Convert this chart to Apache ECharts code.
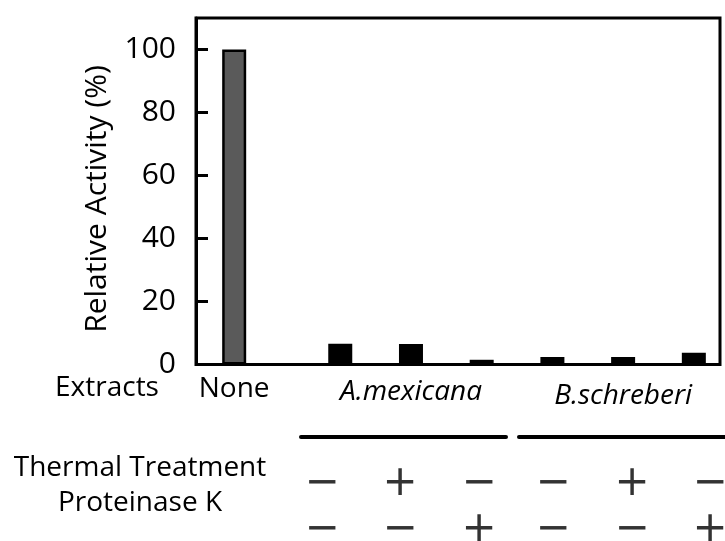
<!DOCTYPE html>
<html>
<head>
<meta charset="utf-8">
<script src="https://cdn.jsdelivr.net/npm/echarts@6/dist/echarts.min.js"></script>
<style>
  html, body { margin: 0; padding: 0; background: #fff; }
  #chart { width: 725px; height: 541px; }
</style>
</head>
<body>
<div id="chart"></div>
<script>
// Extract groups and the group each bar belongs to
const groups = ['None', 'A.mexicana', 'B.schreberi'];
const barGroup = [0, 1, 1, 1, 2, 2, 2];
// Relative activity (%) for each bar
const activity = [100, 6.6, 6.5, 1.5, 2.4, 2.4, 3.7];
// Treatment table (one column per extract bar)
const thermal = ['−', '+', '−', '−', '+', '−'];
const proteinase = ['−', '−', '+', '−', '−', '+'];
// Y axis ticks
const yMin = 0, yMax = 110, yStep = 20;

const FONT = 'Open Sans';

// Bars after the control sit one and a half slots away from it
const barPos = activity.map((v, i) => (i === 0 ? 0 : i + 0.5));

const chart = echarts.init(document.getElementById('chart'), null, { renderer: 'canvas' });

chart.setOption({
  animation: false,
  backgroundColor: '#fff',
  grid: {
    left: 196, right: 5, top: 18, bottom: 176.5,
    show: true, borderColor: '#000', borderWidth: 3, backgroundColor: 'transparent'
  },
  xAxis: {
    type: 'value', min: -0.54, max: 6.87,
    axisLine: { show: false, onZero: false }, axisTick: { show: false },
    axisLabel: { show: false }, splitLine: { show: false }
  },
  yAxis: {
    type: 'value', min: yMin, max: yMax, interval: yStep,
    axisLine: { show: true, onZero: false, lineStyle: { color: '#000', width: 3 } },
    axisTick: { show: true, inside: true, length: 12, lineStyle: { color: '#000', width: 3 } },
    axisLabel: {
      showMaxLabel: false, margin: 20,
      fontFamily: FONT, fontSize: 30, color: '#000'
    },
    splitLine: { show: false }
  },
  series: [{
    type: 'bar',
    barWidth: 24,
    data: activity.map((v, i) => ({
      value: [barPos[i], v],
      itemStyle: { color: barGroup[i] === 0 ? '#5a5a5a' : '#000' }
    })),
    itemStyle: { borderColor: '#000', borderWidth: 2.5 }
  }]
});

// Text and table placed under the plot
function px(pos) { return chart.convertToPixel({ gridIndex: 0 }, [pos, 0])[0]; }

const graphics = [];
const labelStyle = { fontFamily: FONT, fontSize: 28, fill: '#000', align: 'center', verticalAlign: 'middle' };

// Y axis title
graphics.push({
  type: 'text', x: 97, y: 199, rotation: Math.PI / 2,
  style: Object.assign({}, labelStyle, { text: 'Relative Activity (%)', fontSize: 30 })
});

// Extract row
graphics.push({ type: 'text', x: 107, y: 388, style: Object.assign({}, labelStyle, { text: 'Extracts' }) });
const groupLabelY = [389, 392, 396];
groups.forEach((g, gi) => {
  const idx = barGroup.map((b, i) => (b === gi ? i : -1)).filter(i => i >= 0);
  const mid = (barPos[idx[0]] + barPos[idx[idx.length - 1]]) / 2;
  graphics.push({
    type: 'text', x: px(mid), y: groupLabelY[gi],
    style: Object.assign({}, labelStyle, { text: g, fontStyle: gi === 0 ? 'normal' : 'italic' })
  });
});

// Group bracket lines over the treatment table
graphics.push({ type: 'line', shape: { x1: 301, y1: 437, x2: 506, y2: 437 }, style: { stroke: '#000', lineWidth: 4, lineCap: 'round' } });
graphics.push({ type: 'line', shape: { x1: 519, y1: 437, x2: 730, y2: 437 }, style: { stroke: '#000', lineWidth: 4, lineCap: 'round' } });

// Treatment rows
graphics.push({ type: 'text', x: 140, y: 468, style: Object.assign({}, labelStyle, { text: 'Thermal Treatment' }) });
graphics.push({ type: 'text', x: 140, y: 503, style: Object.assign({}, labelStyle, { text: 'Proteinase K' }) });
const colX = [322, 400, 479, 553, 632, 710];
const signStyle = { fontFamily: 'DejaVu Sans', fontSize: 42, fill: '#333', align: 'center', verticalAlign: 'middle' };
thermal.forEach((s, i) => {
  graphics.push({ type: 'text', x: colX[i], y: 484, style: Object.assign({}, signStyle, { text: s }) });
});
proteinase.forEach((s, i) => {
  graphics.push({ type: 'text', x: colX[i], y: 530, style: Object.assign({}, signStyle, { text: s }) });
});

chart.setOption({ graphic: graphics });
</script>
</body>
</html>
